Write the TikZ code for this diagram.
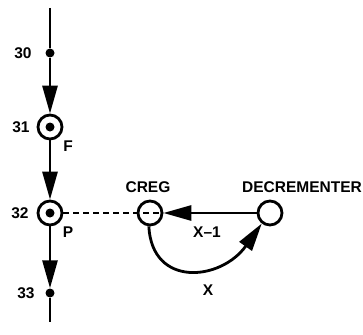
\documentclass[tikz,border=0pt]{standalone}
\usepackage{fontspec}
\setmainfont{Liberation Sans}
\usetikzlibrary{positioning,calc,arrows.meta}

\tikzset{
    wire/.style={line width=2.8pt},
    flow/.style={wire, -{Triangle[length=28pt,width=15pt]}},
    dot/.style={circle, fill, inner sep=0pt, minimum size=9pt},
    ring/.style={circle, draw, line width=2.8pt, inner sep=0pt, minimum size=24pt},
    lbl/.style={font=\bfseries\fontsize{15.5}{15.5}\selectfont, inner sep=0pt},
}

\begin{document}
\begin{tikzpicture}[x=1pt, y=-1pt]
        \useasboundingbox (0,0) rectangle (363,334);
        % the places of the main line
        \coordinate (top) at (50,8);
        \coordinate (bottom) at (50,322);
        \node[dot] (n30) at (50,53) {};
        \node[ring] (n31) at (50,127) {};
        \node[dot] (n31c) at (n31) {};
        \node[ring] (n32) at (50,213) {};
        \node[dot] (n32c) at (n32) {};
        \node[dot] (n33) at (50,293) {};
        % the register and the decrementer
        \node[ring] (creg) at (150,213) {};
        \node[ring] (dec) at (270,213) {};
        % draw the flow
        \draw [wire] (top) -- (n30);
        \draw [flow] (n30) -- (n31);
        \draw [flow] (n31) -- (n32);
        \draw [flow] (n32) -- (n33);
        \draw [wire] (n33) -- (bottom);
        % dashed link into the register
        \draw [line width=2.4pt, dash pattern=on 6pt off 4pt] (n32.east) -- (creg.center) -- (creg.east);
        \draw [flow] (dec) -- (creg);
        \draw [flow] (creg.-95) .. controls (152,288) and (221,281) .. (dec.-128);
        % annotations
        \node[lbl] (l30) at (23,53) {30};
        \node[lbl] (l31) at (21,127) {31};
        \node[lbl] (l32) at (20,213) {32};
        \node[lbl] (l33) at (26,293) {33};
        \node[lbl] (lf) at (68,146) {F};
        \node[lbl] (lp) at (68,232) {P};
        \node[lbl] (lcreg) at (148,187) {CREG};
        \node[lbl] (ldec) at (302,187) {DECREMENTER};
        \node[lbl] (lx1) at (207,232) {X–1};
        \node[lbl] (lx) at (208,290) {X};
    \end{tikzpicture}
\end{document}
